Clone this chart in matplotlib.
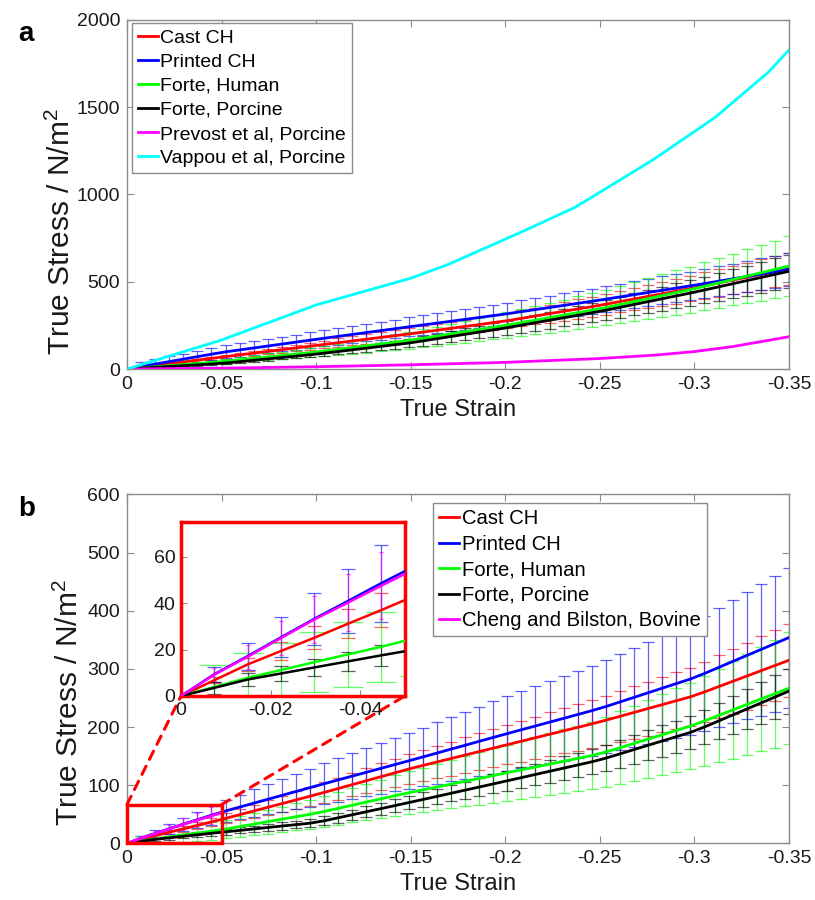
import numpy as np
import matplotlib
matplotlib.use("Agg")
import matplotlib.pyplot as plt
from matplotlib.patches import Rectangle, ConnectionPatch

plt.rcParams['font.family'] = ['Liberation Sans', 'DejaVu Sans']
plt.rcParams['mathtext.fontset'] = 'custom'
plt.rcParams['mathtext.rm'] = 'Liberation Sans'
plt.rcParams['mathtext.it'] = 'Liberation Sans'
plt.rcParams['axes.unicode_minus'] = False

# ---------------- data ----------------
# strain grid (true strain, compression -> negative)
strain = -np.linspace(0, 0.35, 48)

# Panel a
a_cast = [0, 10.1, 20.3, 30.4, 40.5, 50.6, 60.8, 70.9, 80.8, 90.8, 100.8, 110.8, 120.8, 130.8, 140.7, 150.7,
          160.7, 170.7, 180.7, 190.7, 200.6, 211.3, 222.2, 233.0, 243.9, 254.8, 265.7, 276.9, 290.3, 303.7,
          317.1, 330.5, 343.9, 357.3, 371.4, 386.3, 401.2, 416.1, 431.0, 445.9, 460.7, 476.7, 493.1, 509.5,
          525.9, 542.2, 558.6, 575]
a_cast_err = [0, 1.6, 3.2, 4.9, 6.5, 8.1, 9.7, 11.3, 12.9, 14.5, 16.1, 17.7, 19.3, 20.9, 22.5, 24.1, 25.7,
              27.3, 28.9, 30.5, 32.1, 33.8, 35.6, 37.3, 39.0, 40.8, 42.5, 44.3, 46.4, 48.6, 50.7, 52.9, 55.0,
              57.2, 59.4, 61.8, 64.2, 66.6, 69.0, 71.3, 73.7, 76.3, 78.9, 81.5, 84.1, 86.8, 89.4, 92.0]
a_printed = [0, 14.2, 28.3, 42.4, 56.6, 70.7, 84.9, 98.2, 109.4, 120.5, 131.7, 142.9, 154.0, 165.2, 176.2,
             187.1, 198.0, 208.8, 219.7, 230.6, 241.5, 252.2, 262.9, 273.6, 284.4, 295.1, 305.8, 316.7, 328.6,
             340.5, 352.4, 364.4, 376.3, 388.2, 400.4, 413.1, 425.8, 438.4, 451.1, 463.7, 476.4, 489.7, 503.2,
             516.8, 530.3, 543.9, 557.4, 571]
a_printed_err = [0, 26.7, 28.4, 30.1, 31.8, 33.5, 35.2, 36.8, 38.1, 39.5, 40.8, 42.1, 43.5, 44.8, 46.1, 47.5,
                 48.8, 50.1, 51.4, 52.7, 54.0, 55.3, 56.5, 57.8, 59.1, 60.4, 61.7, 63.0, 64.4, 65.9, 67.3, 68.7,
                 70.2, 71.6, 73.0, 74.6, 76.1, 77.6, 79.1, 80.6, 82.2, 83.8, 85.4, 87.0, 88.6, 90.3, 91.9, 93.5]
a_human = [0, 6.3, 12.5, 18.8, 25.0, 31.3, 37.5, 44.3, 52.5, 60.7, 68.9, 77.1, 85.3, 93.5, 102.8, 112.9, 123.0,
           133.1, 143.2, 153.3, 163.6, 175.8, 188.5, 201.2, 213.8, 226.5, 239.1, 252.0, 266.2, 280.3, 294.5,
           308.6, 322.8, 336.9, 352.3, 369.5, 386.6, 403.7, 420.9, 438.0, 455.1, 473.8, 493.2, 512.6, 531.9,
           551.3, 570.6, 590]
a_human_err = [0, 1.8, 3.6, 5.5, 7.3, 9.1, 10.9, 12.8, 15.2, 17.6, 20.0, 22.4, 24.7, 27.1, 29.8, 32.7, 35.7,
               38.6, 41.5, 44.5, 47.4, 51.0, 54.7, 58.3, 62.0, 65.7, 69.3, 73.1, 77.2, 81.3, 85.4, 89.5, 93.6,
               97.7, 102.2, 107.2, 112.1, 117.1, 122.1, 127.0, 132.0, 137.4, 143.0, 148.7, 154.3, 159.9, 165.5,
               171.1]
a_porcine = [0, 4.8, 9.5, 14.3, 19.1, 23.8, 28.6, 34.3, 42.1, 50.0, 57.9, 65.8, 73.7, 81.6, 90.5, 100.2, 109.9,
             119.6, 129.3, 139.0, 148.6, 160.8, 173.5, 186.2, 198.8, 211.5, 224.1, 237.0, 251.2, 265.3, 279.5,
             293.6, 307.8, 321.9, 337.0, 353.4, 369.8, 386.2, 402.6, 418.9, 435.3, 452.8, 470.6, 488.5, 506.4,
             524.3, 542.1, 560]
a_porcine_err = [0, 0.8, 1.6, 2.4, 3.2, 4.0, 4.9, 5.8, 7.2, 8.5, 9.8, 11.2, 12.5, 13.9, 15.4, 17.0, 18.7, 20.3,
                 22.0, 23.6, 25.3, 27.3, 29.5, 31.7, 33.8, 36.0, 38.1, 40.3, 42.7, 45.1, 47.5, 49.9, 52.3, 54.7,
                 57.3, 60.1, 62.9, 65.7, 68.4, 71.2, 74.0, 77.0, 80.0, 83.0, 86.1, 89.1, 92.2, 95.2]

prevost_strain = [0, -0.05, -0.1, -0.15, -0.2, -0.25, -0.28, -0.3, -0.32, -0.35]
prevost_stress = [0, 5, 13, 24, 38, 60, 80, 100, 128, 185]
vappou_strain = [0, -0.05, -0.1, -0.15, -0.17, -0.211, -0.237, -0.278, -0.311, -0.339, -0.35]
vappou_stress = [0, 166, 367, 520, 600, 797, 927, 1198, 1442, 1700, 1828]

# Panel b
b_cast = [0, 6.8, 13.6, 19.4, 25.1, 31.1, 37.0, 43.1, 49.5, 55.8, 62.2, 68.5, 74.9, 81.3, 87.8, 94.5, 101.2,
          107.9, 114.6, 121.3, 128.0, 134.1, 140.1, 146.0, 152.0, 157.9, 163.9, 169.8, 175.8, 181.8, 187.7,
          193.7, 199.6, 205.6, 211.9, 218.6, 225.3, 232.0, 238.7, 245.4, 252.1, 260.5, 269.6, 278.7, 287.8,
          296.9, 305.9, 315]
b_cast_err = [0, 1.4, 2.7, 3.9, 5.0, 6.2, 7.4, 8.6, 9.9, 11.2, 12.4, 13.7, 15.0, 16.3, 17.6, 18.9, 20.2, 21.6,
              22.9, 24.3, 25.6, 26.8, 28.0, 29.2, 30.4, 31.6, 32.8, 34.0, 35.2, 36.4, 37.5, 38.7, 39.9, 41.1,
              42.4, 43.7, 45.1, 46.4, 47.7, 49.1, 50.4, 52.1, 53.9, 55.7, 57.6, 59.4, 61.2, 63.0]
b_printed = [0, 9.4, 17.2, 25.3, 33.3, 40.9, 48.6, 55.9, 62.6, 69.3, 76.0, 82.7, 89.4, 96.1, 102.7, 109.3,
             115.9, 122.4, 129.0, 135.5, 142.1, 148.7, 155.4, 162.2, 168.8, 175.6, 182.3, 188.9, 195.5, 202.0,
             208.6, 215.1, 221.7, 228.3, 235.4, 243.3, 251.2, 259.1, 267.0, 274.9, 282.7, 292.3, 302.6, 312.9,
             323.2, 333.4, 343.7, 354.0]
b_printed_err = [0, 3.2, 5.8, 8.6, 11.3, 13.9, 16.5, 19.0, 21.3, 23.6, 25.8, 28.1, 30.4, 32.7, 34.9, 37.2,
                 39.4, 41.6, 43.9, 46.1, 48.3, 50.6, 52.8, 55.1, 57.4, 59.7, 62.0, 64.2, 66.5, 68.7, 70.9, 73.1,
                 75.4, 77.6, 80.0, 82.7, 85.4, 88.1, 90.8, 93.5, 96.1, 99.4, 102.9, 106.4, 109.9, 113.4, 116.9,
                 120.4]
b_human = [0, 3.9, 7.8, 11.2, 14.6, 17.9, 21.2, 24.8, 29.0, 33.2, 37.5, 41.7, 46.0, 50.2, 55.1, 60.4, 65.8,
           71.2, 76.5, 81.9, 87.2, 92.2, 97.1, 102.0, 106.9, 111.8, 116.8, 121.7, 126.6, 131.5, 136.4, 141.4,
           146.3, 151.2, 157.2, 164.6, 172.1, 179.5, 187.0, 194.4, 201.9, 210.7, 220.1, 229.5, 238.9, 248.3,
           257.6, 267]
b_human_err = [0, 9.3, 10.6, 11.7, 12.8, 13.9, 15.0, 16.2, 17.6, 19.0, 20.4, 21.8, 23.2, 24.6, 26.2, 27.9,
               29.7, 31.5, 33.2, 35.0, 36.8, 38.4, 40.0, 41.7, 43.3, 44.9, 46.5, 48.2, 49.8, 51.4, 53.0, 54.7,
               56.3, 57.9, 59.9, 62.3, 64.8, 67.2, 69.7, 72.2, 74.6, 77.5, 80.6, 83.7, 86.8, 89.9, 93.0, 96.1]
b_porcine = [0, 3.5, 7.1, 9.7, 12.3, 14.9, 17.5, 20.0, 22.5, 25.0, 27.5, 30.0, 32.4, 34.9, 39.0, 44.2, 49.4,
             54.6, 59.8, 65.0, 70.3, 75.6, 80.9, 86.3, 91.7, 97.0, 102.4, 107.8, 113.2, 118.7, 124.1, 129.5,
             135.0, 140.4, 146.7, 154.1, 161.5, 168.9, 176.2, 183.6, 191.0, 200.3, 210.6, 220.9, 231.2, 241.4,
             251.7, 262]
b_porcine_err = [0, 2.5, 3.0, 3.4, 3.7, 4.1, 4.5, 4.8, 5.2, 5.5, 5.9, 6.2, 6.5, 6.9, 7.5, 8.2, 8.9, 9.6, 10.4,
                 11.1, 11.8, 12.6, 13.3, 14.1, 14.8, 15.6, 16.3, 17.1, 17.8, 18.6, 19.4, 20.1, 20.9, 21.7, 22.5,
                 23.6, 24.6, 25.6, 26.7, 27.7, 28.7, 30.0, 31.5, 32.9, 34.4, 35.8, 37.2, 38.7]
cheng_strain = [0, -0.00745, -0.01489, -0.02234, -0.02979, -0.03723, -0.04468, -0.05]
cheng_stress = [0, 9.2, 16.9, 25.0, 33.0, 40.2, 47.5, 52.6]
cheng_err = [0, 2.8, 5.2, 7.5, 10.3, 12.4, 14.5, 0]

xticks = [0, -0.05, -0.1, -0.15, -0.2, -0.25, -0.3, -0.35]
xtick_labels = ['0', '-0.05', '-0.1', '-0.15', '-0.2', '-0.25', '-0.3', '-0.35']
a_yticks = [0, 500, 1000, 1500, 2000]
b_yticks = [0, 100, 200, 300, 400, 500, 600]
inset_xticks = [0, -0.02, -0.04]
inset_xtick_labels = ['0', '-0.02', '-0.04']
inset_yticks = [0, 20, 40, 60]

# ---------------- styling ----------------
RED, BLUE, GREEN, BLACK, MAG, CYAN = '#ff0000', '#0000ff', '#00ff00', '#000000', '#ff00ff', '#00ffff'
SPINE = '#8c8c8c'
TXT = '#1a1a1a'
TICKFS = 14
LABFS = 17
YLABFS = 21.5
EALPHA = 0.62

fig = plt.figure(figsize=(8.15, 9.0), dpi=100)
axA = fig.add_axes([0.1558, 0.590, 0.8123, 0.3878])
axB = fig.add_axes([0.1558, 0.0628, 0.8123, 0.3878])
axI = fig.add_axes([0.2221, 0.2267, 0.2748, 0.1933])


def style(ax, fs=TICKFS):
    for s in ax.spines.values():
        s.set_color(SPINE)
        s.set_linewidth(1.0)
    ax.tick_params(direction='in', top=True, right=True, length=5, width=0.8, color=SPINE,
                   labelsize=fs, labelcolor=TXT, pad=5)


def draw_set(ax, series, cap=4.2, elw=0.9, lw=2.0, alpha=EALPHA):
    for y, e, c in series:
        ax.errorbar(strain, y, yerr=e, fmt='none', ecolor=c, elinewidth=elw, capsize=cap,
                    capthick=elw, alpha=alpha, zorder=2)
    lines = []
    for y, e, c in series:
        lines.append(ax.plot(strain, y, color=c, lw=lw, zorder=3)[0])
    return lines


# ---- panel a ----
setA = [(a_cast, a_cast_err, RED), (a_printed, a_printed_err, BLUE),
        (a_human, a_human_err, GREEN), (a_porcine, a_porcine_err, BLACK)]
lA = draw_set(axA, setA)
lA.append(axA.plot(prevost_strain, prevost_stress, color=MAG, lw=2.0, zorder=3)[0])
lA.append(axA.plot(vappou_strain, vappou_stress, color=CYAN, lw=2.0, zorder=3)[0])
axA.set_xlim(0, -0.35)
axA.set_ylim(0, 2000)
axA.set_xticks(xticks)
axA.set_xticklabels(xtick_labels)
axA.set_yticks(a_yticks)
style(axA)
axA.set_xlabel('True Strain', fontsize=LABFS, color=TXT, labelpad=4)
axA.set_ylabel('True Stress / N/m$^2$', fontsize=YLABFS, color=TXT)
axA.yaxis.set_label_coords(-0.077, 0.395)
legA = axA.legend(lA, ['Cast CH', 'Printed CH', 'Forte, Human', 'Forte, Porcine',
                       'Prevost et al, Porcine', 'Vappou et al, Porcine'],
                  loc='upper left', bbox_to_anchor=(0.008, 0.99), fontsize=14, handlelength=1.0,
                  handletextpad=0.15, borderpad=0.3, labelspacing=0.33, borderaxespad=0.0,
                  fancybox=False, framealpha=1, edgecolor=SPINE)
legA.get_frame().set_linewidth(1.0)
fig.text(0.022, 0.962, 'a', fontsize=20, fontweight='bold', va='center')

# ---- panel b ----
setB = [(b_cast, b_cast_err, RED), (b_printed, b_printed_err, BLUE),
        (b_human, b_human_err, GREEN), (b_porcine, b_porcine_err, BLACK)]
lB = draw_set(axB, setB)
axB.errorbar(cheng_strain[:-1], cheng_stress[:-1], yerr=cheng_err[:-1], fmt='none', ecolor=MAG,
             elinewidth=0.9, capsize=1.5, capthick=0.9, alpha=0.7, zorder=2)
lB.append(axB.plot(cheng_strain, cheng_stress, color=MAG, lw=2.0, zorder=3)[0])
axB.set_xlim(0, -0.35)
axB.set_ylim(0, 600)
axB.set_xticks(xticks)
axB.set_xticklabels(xtick_labels)
axB.set_yticks(b_yticks)
style(axB)
axB.set_xlabel('True Strain', fontsize=LABFS, color=TXT, labelpad=4)
axB.set_ylabel('True Stress / N/m$^2$', fontsize=YLABFS, color=TXT)
axB.yaxis.set_label_coords(-0.065, 0.405)
legB = axB.legend(lB, ['Cast CH', 'Printed CH', 'Forte, Human', 'Forte, Porcine',
                       'Cheng and Bilston, Bovine'],
                  loc='upper left', bbox_to_anchor=(0.462, 0.975), fontsize=14.6, handlelength=1.0,
                  handletextpad=0.15, borderpad=0.3, labelspacing=0.32, borderaxespad=0.0,
                  fancybox=False, framealpha=1, edgecolor=SPINE)
legB.get_frame().set_linewidth(1.0)
legB.set_zorder(10)
fig.text(0.022, 0.434, 'b', fontsize=20, fontweight='bold', va='center')

# zoom rectangle in panel b
rect_top = 67
axB.add_patch(Rectangle((0, 0), -0.05, rect_top, fill=False, edgecolor=RED, lw=2.5, zorder=6,
                        clip_on=False))

# ---- inset ----
series_I = [(b_cast, b_cast_err, RED, 5), (b_printed, b_printed_err, BLUE, 5),
            (b_human, b_human_err, GREEN, 11), (b_porcine, b_porcine_err, BLACK, 5)]
for y, e, c, cs in series_I:
    axI.errorbar(strain, y, yerr=e, fmt='none', ecolor=c, elinewidth=0.9, capsize=cs,
                 capthick=0.9, alpha=EALPHA, zorder=2)
axI.errorbar(cheng_strain[:-1], cheng_stress[:-1], yerr=cheng_err[:-1], fmt='none', ecolor=MAG,
             elinewidth=0.9, capsize=1.5, capthick=0.9, alpha=0.75, zorder=2)
for y, e, c, cs in series_I:
    axI.plot(strain, y, color=c, lw=1.8, zorder=3)
axI.plot(cheng_strain, cheng_stress, color=MAG, lw=1.8, zorder=3)
axI.set_xlim(0, -0.05)
axI.set_ylim(0, 75)
axI.set_xticks(inset_xticks)
axI.set_xticklabels(inset_xtick_labels)
axI.set_yticks(inset_yticks)
axI.tick_params(direction='in', length=4, width=0.8, color=SPINE, labelsize=TICKFS,
                labelcolor=TXT, pad=4)
for s in axI.spines.values():
    s.set_color(RED)
    s.set_linewidth(2.5)
axI.set_zorder(8)

# dashed connectors
for xb, xi in [(0, 0), (-0.05, 1)]:
    cp = ConnectionPatch(xyA=(xb, rect_top), coordsA=axB.transData,
                         xyB=(xi, 0), coordsB=axI.transAxes,
                         color=RED, lw=2.2, linestyle=(0, (3, 2.5)), zorder=7)
    fig.add_artist(cp)

fig.savefig('out.png', dpi=100)
